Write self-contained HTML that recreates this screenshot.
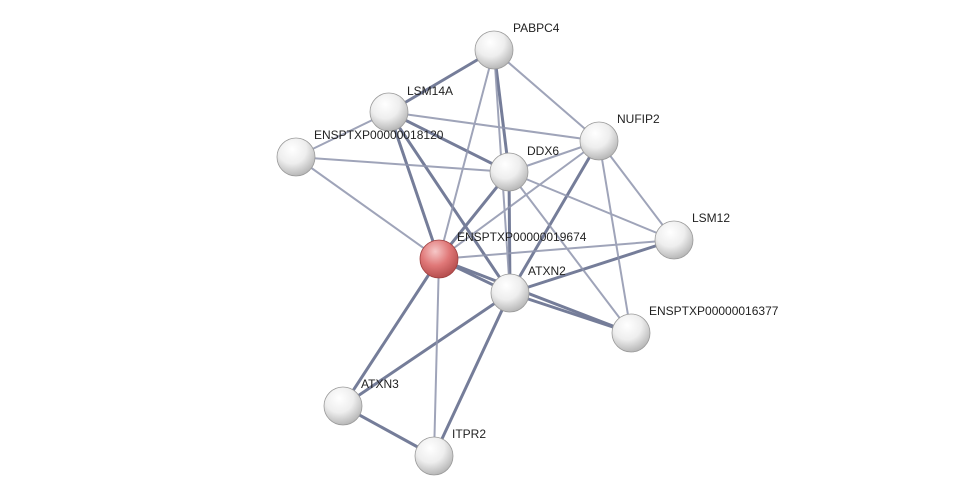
<!DOCTYPE html>
<html><head><meta charset="utf-8"><style>
html,body{margin:0;padding:0;background:#fff;}
svg{display:block;}
text{font-family:"Liberation Sans",sans-serif;font-size:12px;fill:#222;}
</style></head><body>
<svg width="975" height="500" viewBox="0 0 975 500" xmlns="http://www.w3.org/2000/svg">
<defs>
<radialGradient id="g" cx="40%" cy="30%" r="75%">
<stop offset="0" stop-color="#ffffff"/><stop offset="0.5" stop-color="#eeeeee"/><stop offset="1" stop-color="#b0b0b0"/>
</radialGradient>
<radialGradient id="r" cx="40%" cy="30%" r="75%">
<stop offset="0" stop-color="#f6c8c8"/><stop offset="0.5" stop-color="#e07878"/><stop offset="1" stop-color="#b04848"/>
</radialGradient>
</defs>
<g stroke-linecap="round">
<g stroke="#5e6788" stroke-width="3" opacity="0.85">
<line x1="494" y1="50" x2="389" y2="112"/>
<line x1="494" y1="50" x2="509" y2="172"/>
<line x1="389" y1="112" x2="509" y2="172"/>
<line x1="389" y1="112" x2="510" y2="293"/>
<line x1="389" y1="112" x2="439" y2="259"/>
<line x1="599" y1="141" x2="510" y2="293"/>
<line x1="509" y1="172" x2="510" y2="293"/>
<line x1="509" y1="172" x2="439" y2="259"/>
<line x1="439" y1="259" x2="510" y2="293"/>
<line x1="439" y1="259" x2="631" y2="333"/>
<line x1="439" y1="259" x2="343" y2="406"/>
<line x1="510" y1="293" x2="631" y2="333"/>
<line x1="510" y1="293" x2="343" y2="406"/>
<line x1="510" y1="293" x2="434" y2="456"/>
<line x1="343" y1="406" x2="434" y2="456"/>
<line x1="674" y1="240" x2="510" y2="293"/>
</g>
<g stroke="#8f95ad" stroke-width="2" opacity="0.85">
<line x1="494" y1="50" x2="599" y2="141"/>
<line x1="494" y1="50" x2="439" y2="259"/>
<line x1="494" y1="50" x2="510" y2="293"/>
<line x1="389" y1="112" x2="599" y2="141"/>
<line x1="389" y1="112" x2="296" y2="157"/>
<line x1="296" y1="157" x2="509" y2="172"/>
<line x1="296" y1="157" x2="439" y2="259"/>
<line x1="599" y1="141" x2="509" y2="172"/>
<line x1="599" y1="141" x2="439" y2="259"/>
<line x1="599" y1="141" x2="674" y2="240"/>
<line x1="599" y1="141" x2="631" y2="333"/>
<line x1="509" y1="172" x2="674" y2="240"/>
<line x1="509" y1="172" x2="631" y2="333"/>
<line x1="674" y1="240" x2="439" y2="259"/>
<line x1="439" y1="259" x2="434" y2="456"/>
</g>
</g>
<g stroke="#9a9a9a" stroke-width="0.8">
<circle cx="494" cy="50" r="19" fill="url(#g)"/>
<circle cx="389" cy="112" r="19" fill="url(#g)"/>
<circle cx="296" cy="157" r="19" fill="url(#g)"/>
<circle cx="599" cy="141" r="19" fill="url(#g)"/>
<circle cx="509" cy="172" r="19" fill="url(#g)"/>
<circle cx="674" cy="240" r="19" fill="url(#g)"/>
<circle cx="439" cy="259" r="19" fill="url(#r)" stroke="#a04040"/>
<circle cx="510" cy="293" r="19" fill="url(#g)"/>
<circle cx="631" cy="333" r="19" fill="url(#g)"/>
<circle cx="343" cy="406" r="19" fill="url(#g)"/>
<circle cx="434" cy="456" r="19" fill="url(#g)"/>
</g>
<text x="513" y="32">PABPC4</text>
<text x="407" y="95">LSM14A</text>
<text x="314" y="139">ENSPTXP00000018120</text>
<text x="617" y="123">NUFIP2</text>
<text x="527" y="155">DDX6</text>
<text x="692" y="222">LSM12</text>
<text x="457" y="241">ENSPTXP00000019674</text>
<text x="528" y="275">ATXN2</text>
<text x="649" y="315">ENSPTXP00000016377</text>
<text x="361" y="388">ATXN3</text>
<text x="452" y="438">ITPR2</text>
</svg>
</body></html>
